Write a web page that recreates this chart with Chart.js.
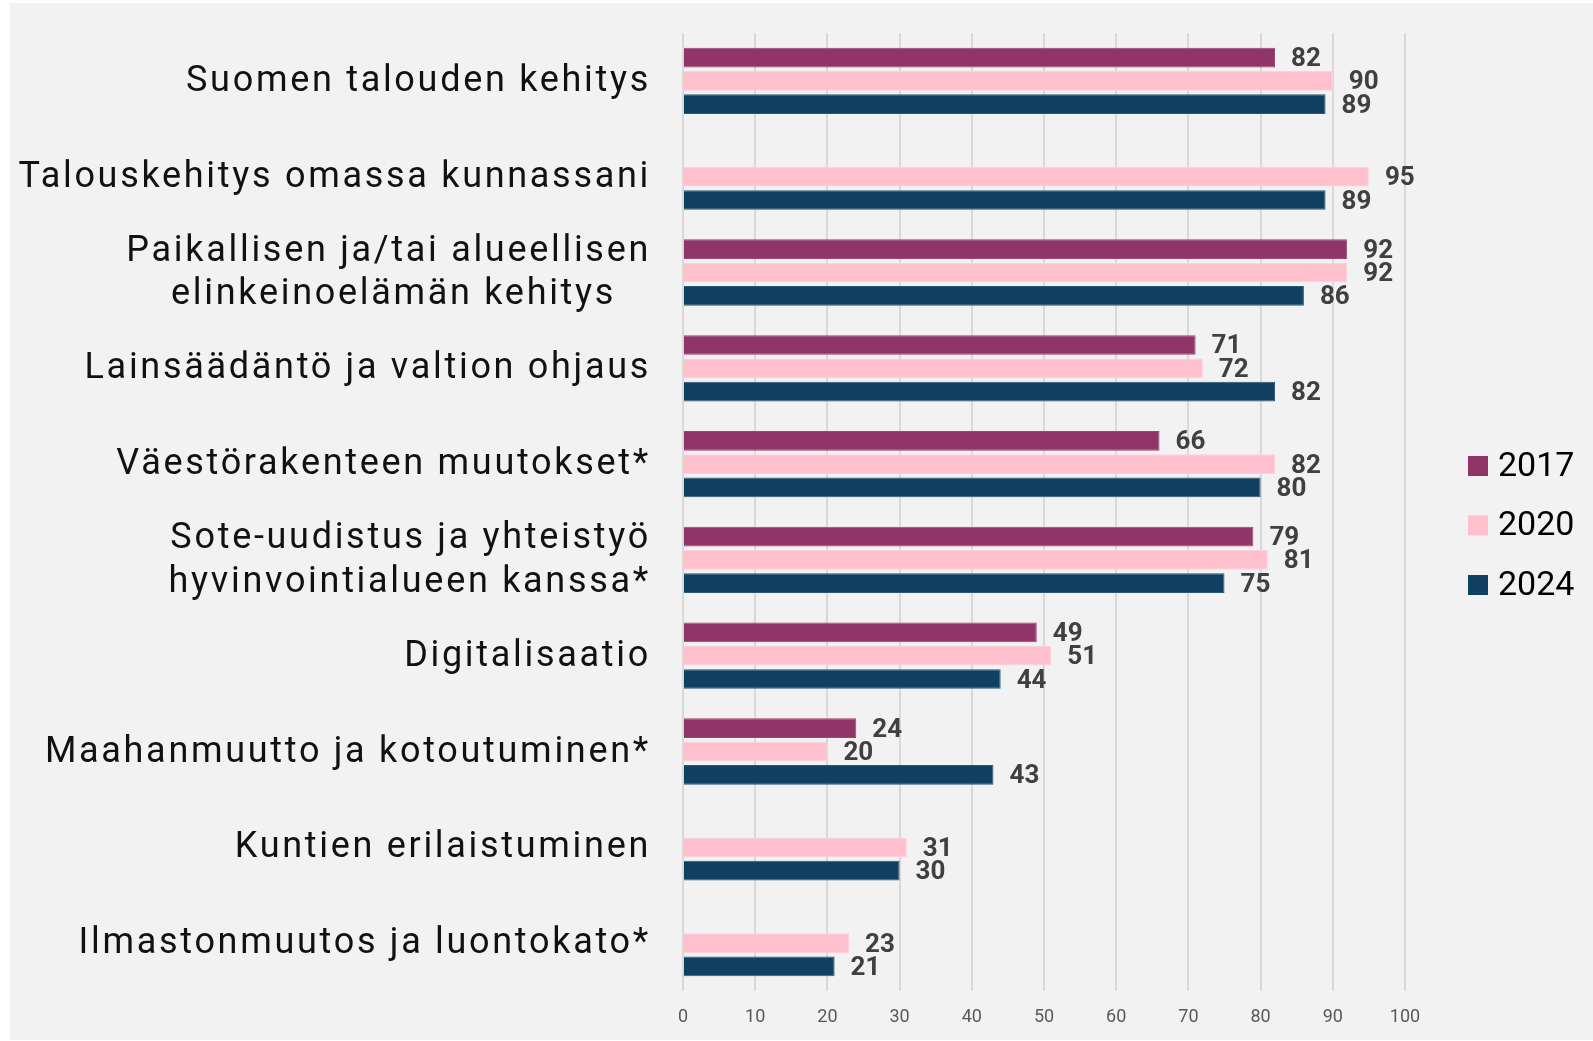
<!DOCTYPE html>
<html>
<head>
<meta charset="utf-8">
<script src="https://cdn.jsdelivr.net/npm/chart.js@4/dist/chart.umd.min.js"></script>
<style>
  html, body { margin: 0; padding: 0; background: #ffffff; }
  #wrap { width: 1593px; height: 1041px; position: relative; }
  canvas { display: block; }
</style>
</head>
<body>
<div id="wrap"><canvas id="c" width="1593" height="1041"></canvas></div>
<script>
const categories = [
  "Suomen talouden kehitys",
  "Talouskehitys omassa kunnassani",
  ["Paikallisen ja/tai alueellisen", "elinkeinoelämän kehitys   "],
  "Lainsäädäntö ja valtion ohjaus",
  "Väestörakenteen muutokset*",
  ["Sote-uudistus ja yhteistyö", "hyvinvointialueen kanssa*"],
  "Digitalisaatio",
  "Maahanmuutto ja kotoutuminen*",
  "Kuntien erilaistuminen",
  "Ilmastonmuutos ja luontokato*"
];
const seriesNames = ["2017", "2020", "2024"];
const values2017 = [82, null, 92, 71, 66, 79, 49, 24, null, null];
const values2020 = [90, 95, 92, 72, 82, 81, 51, 20, 31, 23];
const values2024 = [89, 89, 86, 82, 80, 75, 44, 43, 30, 21];
const xTicks = [0, 10, 20, 30, 40, 50, 60, 70, 80, 90, 100];

const colors = ["#913467", "#FFC0CE", "#114162"];
const borders = ["#9a4572", "#ffd0da", "#2c5878"];

const bgPlugin = {
  id: "bg",
  beforeDraw(chart) {
    const ctx = chart.ctx;
    ctx.save();
    ctx.fillStyle = "#ffffff";
    ctx.fillRect(0, 0, chart.width, chart.height);
    ctx.fillStyle = "#f2f2f2";
    ctx.fillRect(10, 3, chart.width - 10, chart.height - 4);
    ctx.restore();
    // letter spacing for the category labels only
    const s = chart.scales.y;
    if (s && !s._spacedLabels) {
      const orig = s.drawLabels.bind(s);
      s.drawLabels = function (area) {
        const c = chart.ctx;
        c.save();
        c.letterSpacing = "2.7px";
        c.translate(0, 1);
        orig(area);
        c.restore();
      };
      s._spacedLabels = true;
    }
  }
};

const labelPlugin = {
  id: "valueLabels",
  afterDatasetsDraw(chart) {
    const ctx = chart.ctx;
    ctx.save();
    ctx.font = "bold 26px Roboto, 'Liberation Sans', sans-serif";
    ctx.fillStyle = "#404040";
    ctx.textAlign = "left";
    ctx.textBaseline = "middle";
    chart.data.datasets.forEach((ds, di) => {
      const meta = chart.getDatasetMeta(di);
      meta.data.forEach((bar, i) => {
        const v = ds.data[i];
        if (v === null || v === undefined) return;
        ctx.fillText(String(v), bar.x + 16, bar.y + 2);
      });
    });
    ctx.restore();
  }
};

const legendPlugin = {
  id: "customLegend",
  afterDraw(chart) {
    const ctx = chart.ctx;
    ctx.save();
    ctx.font = "34px Roboto, 'Open Sans', sans-serif";
    ctx.textAlign = "left";
    ctx.textBaseline = "middle";
    const x = 1468, y0 = 466, step = 59.5, box = 20;
    chart.data.datasets.forEach((ds, i) => {
      const cy = y0 + i * step;
      ctx.fillStyle = ds.backgroundColor;
      ctx.fillRect(x, cy - box / 2, box, box);
      ctx.fillStyle = "#000000";
      ctx.fillText(ds.label, x + 30, cy + 1);
    });
    ctx.restore();
  }
};

new Chart(document.getElementById("c"), {
  type: "bar",
  data: {
    labels: categories,
    datasets: [
      { label: seriesNames[0], data: values2017, backgroundColor: colors[0], borderColor: borders[0], borderWidth: 1 },
      { label: seriesNames[1], data: values2020, backgroundColor: colors[1], borderColor: borders[1], borderWidth: 1 },
      { label: seriesNames[2], data: values2024, backgroundColor: colors[2], borderColor: borders[2], borderWidth: 1 }
    ]
  },
  options: {
    indexAxis: "y",
    responsive: false,
    animation: false,
    categoryPercentage: 0.73,
    barPercentage: 0.845,
    layout: { padding: { top: 33, right: 188, bottom: 0, left: 0 } },
    plugins: {
      legend: { display: false },
      tooltip: { enabled: false },
      title: { display: false }
    },
    scales: {
      x: {
        min: 0, max: 100,
        afterBuildTicks(scale) { scale.ticks = xTicks.map(v => ({ value: v })); },
        afterFit(scale) { scale.height = 50; },
        ticks: {
          font: { family: "Roboto, 'Liberation Sans', sans-serif", size: 18 },
          color: "#595959",
          padding: 16
        },
        grid: { color: "#d9d9d9", lineWidth: 2, drawTicks: false },
        border: { display: false }
      },
      y: {
        afterFit(scale) {
          scale.width = 683;
          scale.paddingTop = 0;
          scale.paddingBottom = 0;
        },
        ticks: {
          font: { family: "Roboto, 'Open Sans', sans-serif", size: 36, lineHeight: 1.22 },
          color: "#111111",
          padding: 32,
          autoSkip: false
        },
        grid: { display: false, drawTicks: false },
        border: { display: false }
      }
    }
  },
  plugins: [bgPlugin, labelPlugin, legendPlugin]
});
</script>
</body>
</html>
